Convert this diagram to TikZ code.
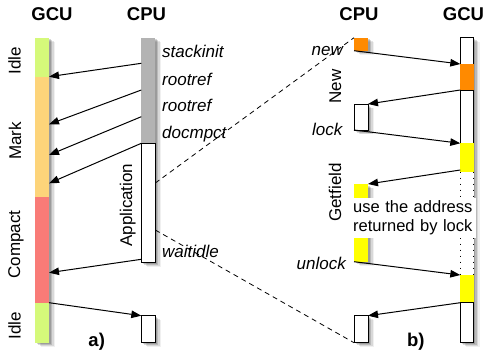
\documentclass[tikz,border=0pt]{standalone}
\usepackage{fontspec}
\setmainfont{Liberation Sans}
\usetikzlibrary{arrows.meta,calc,shadows}

\definecolor{idlegreen}{RGB}{213,249,122}
\definecolor{markorange}{RGB}{253,212,122}
\definecolor{compactred}{RGB}{249,123,119}
\definecolor{rootgray}{RGB}{179,179,179}
\definecolor{neworange}{RGB}{255,138,0}
\definecolor{lockyellow}{RGB}{255,255,0}

\begin{document}
\begin{tikzpicture}[x=1pt,y=-1pt,
  font=\fontsize{17}{20}\selectfont,
  softshadow/.style={
    general shadow={shadow xshift=1.5pt,shadow yshift=-1.5pt,fill=black,opacity=.16},
    general shadow={shadow xshift=3pt,shadow yshift=-2.5pt,fill=black,opacity=.14},
    general shadow={shadow xshift=4.5pt,shadow yshift=-3.5pt,fill=black,opacity=.10},
    general shadow={shadow xshift=6pt,shadow yshift=-4pt,fill=black,opacity=.06}},
  seg/.style={rectangle,inner sep=0pt,outer sep=0pt,anchor=north west,minimum width=14pt},
  wbox/.style={draw=black,line width=0.9pt,fill=white},
  arr/.style={-{Triangle[length=10pt,width=7.5pt]},line width=1pt},
  zoomline/.style={dash pattern=on 5pt off 4pt,line width=0.8pt},
  evt/.style={font=\fontsize{17}{20}\selectfont\itshape,inner sep=0pt},
  head/.style={font=\fontsize{18.5}{22}\selectfont\bfseries,inner sep=0pt,anchor=base},
  phase/.style={rotate=90,anchor=base,inner sep=0pt}]
\useasboundingbox (0,0) rectangle (486,351);

% ---------- a) GCU time line ----------
\node[seg,softshadow,fill=idlegreen,minimum height=305pt] (gcuA) at (35,37.7) {};
\node[seg,fill=idlegreen,minimum height=39pt]   (idleA)   at (35,37.7)  {};
\node[seg,fill=markorange,minimum height=120pt] (mark)    at (35,76.7)  {};
\node[seg,fill=compactred,minimum height=106pt] (compact) at (35,196.7) {};
\node[seg,fill=idlegreen,minimum height=40pt]   (idleB)   at (35,302.7) {};

% ---------- a) CPU time line ----------
\node[seg,softshadow,fill=white,minimum height=225pt] (cpuA) at (141.3,37.7) {};
\node[seg,fill=rootgray,minimum height=105.6pt] (roots) at (141.3,37.7) {};
\node[seg,wbox,minimum height=119.4pt] (app) at (141.3,143.3) {};
\node[seg,wbox,softshadow,minimum height=27pt] (resume) at (141.3,315.7) {};

% ---------- b) CPU time line ----------
\node[seg,softshadow,fill=neworange,minimum height=13pt] (newbox) at (354,37.7) {};
\node[seg,wbox,softshadow,minimum height=26pt] (lockbox) at (354,104) {};
\node[seg,softshadow,fill=lockyellow,minimum height=77.7pt] (getbox) at (354,184) {};
\node[seg,wbox,softshadow,minimum height=27pt] (lastbox) at (354,315.7) {};

% ---------- b) GCU time line ----------
\node[seg,softshadow,fill=white,minimum width=13.4pt,minimum height=305pt] (gcuB) at (460.3,37.7) {};
\node[seg,wbox,minimum width=13.4pt,minimum height=26.3pt] (gw1) at (460.3,37.7) {};
\node[seg,fill=neworange,minimum width=13.4pt,minimum height=26pt] (gor) at (460.3,64) {};
\node[seg,wbox,minimum width=13.4pt,minimum height=53.3pt] (gw2) at (460.3,90) {};
\node[seg,fill=lockyellow,minimum width=13.4pt,minimum height=28.4pt] (gy1) at (460.3,143.3) {};
\node[seg,fill=white,minimum width=13.4pt,minimum height=103.3pt] (gdot) at (460.3,171.7) {};
\node[seg,fill=lockyellow,minimum width=13.4pt,minimum height=27.7pt] (gy2) at (460.3,275) {};
\node[seg,wbox,minimum width=13.4pt,minimum height=40pt] (gw3) at (460.3,302.7) {};
\draw[line width=0.9pt,dash pattern=on 1.5pt off 4.5pt] (gdot.north west) -- (gdot.south west);
\draw[line width=0.9pt,dash pattern=on 1.5pt off 4.5pt] (gdot.north east) -- (gdot.south east);

% ---------- headings ----------
\node[head] (hgA) at (52,20)    {GCU};
\node[head] (hcA) at (146.5,20) {CPU};
\node[head] (hcB) at (359,20)   {CPU};
\node[head] (hgB) at (463.5,20) {GCU};

% ---------- phase names ----------
\node[phase] (pIdleA)   at (20.5,60.8)  {Idle};
\node[phase] (pMark)    at (21,141)     {Mark};
\node[phase] (pCompact) at (20,244.5)   {Compact};
\node[phase] (pIdleB)   at (20.5,325.7) {Idle};
\node[phase] (pApp)     at (132,205.2)  {Application};
\node[phase] (pNew)     at (341,86.7)   {New};
\node[phase] (pGet)     at (341,192.5)  {Getfield};

% ---------- operations ----------
\node[evt,anchor=base west] (oStack) at (162,57.3)  {stackinit};
\node[evt,anchor=base west] (oRootA) at (162,85)    {rootref};
\node[evt,anchor=base west] (oRootB) at (162,111.7) {rootref};
\node[evt,anchor=base west] (oDoc)   at (162,138.3) {docmpct};
\node[evt,anchor=base west] (oWait)  at (162,257.3) {waitidle};
\node[evt,anchor=base east] (oNew)   at (343,55)    {new};
\node[evt,anchor=base east] (oLock)  at (342.5,135) {lock};
\node[evt,anchor=base east] (oUnl)   at (346,269.3) {unlock};

% ---------- messages a) ----------
\draw[arr] ($(roots.north west)+(0,25.6)$) -- (idleA.south east);
\draw[arr] ($(roots.north west)+(0,52.3)$) -- ($(mark.north east)+(0,47.6)$);
\draw[arr] ($(roots.north west)+(0,79)$)   -- ($(mark.north east)+(0,78.3)$);
\draw[arr] (app.north west) -- ($(mark.north east)+(0,106.6)$);
\draw[arr] ($(app.north west)+(0,116)$) -- ($(compact.north east)+(0,76)$);
\draw[arr] (compact.south east) -- (resume.north west);

% ---------- messages b) ----------
\draw[arr] (newbox.south west) -- (gor.north west);
\draw[arr] (gor.south west) -- (lockbox.north east);
\draw[arr] (lockbox.south west) -- (gy1.north west);
\draw[arr] ($(gy1.south west)+(0,-1.7)$) -- (getbox.north east);
\draw[arr] (getbox.south west) -- (gy2.north west);
\draw[arr] (gy2.south west) -- (lastbox.north east);

% ---------- zoom lines ----------
\draw[zoomline] ($(app.north east)+(0,39.7)$) -- (newbox.north west);
\draw[zoomline] ($(app.north east)+(0,86.7)$) -- (lastbox.south west);

% ---------- note ----------
\node[anchor=north west,fill=white,inner xsep=2pt,inner ysep=3pt,text width=121pt,align=left,
      font=\fontsize{16.5}{19}\selectfont] (note) at (351,197.5)
  {use the address\\returned by lock};

% ---------- sub-figure labels ----------
\node[head] (la) at (96.7,346) {a)};
\node[head] (lb) at (415.8,346) {b)};
\end{tikzpicture}
\end{document}
